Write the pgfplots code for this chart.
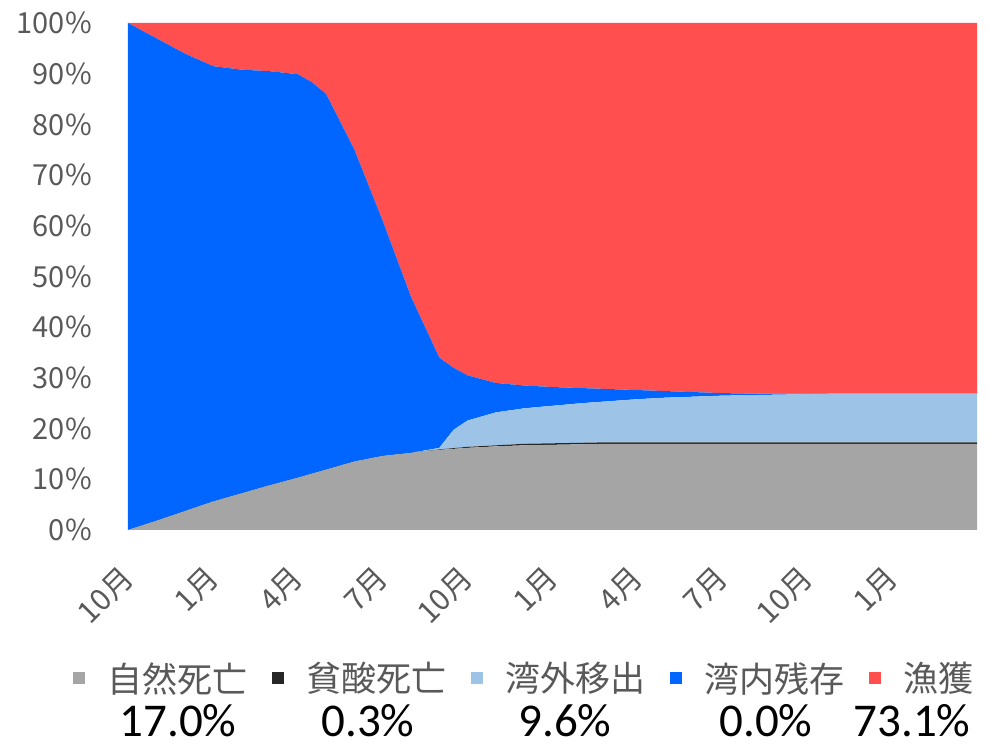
\documentclass[border=0pt]{standalone}
\usepackage{fontspec}
\setmainfont{Noto Sans CJK JP}
\newfontfamily\numfont{Carlito}
\usepackage{pgfplots}
\usepackage{pgfplotstable}
\pgfplotsset{compat=1.18}

\definecolor{tickgray}{HTML}{595959}
\definecolor{natgray}{HTML}{A5A5A5}
\definecolor{hypoxic}{HTML}{262626}
\definecolor{outblue}{HTML}{9DC3E6}
\definecolor{inblue}{HTML}{0066FF}
\definecolor{catchred}{HTML}{FF4F4F}

% monthly shares (%): natural death, hypoxic death, emigration, remaining, catch
\pgfplotstableread{
m     g     b     l     u      r
0     0.0   0.0   0.0   100.0  0.0
1     1.8   0.0   0.0   95.2   3.0
2     3.7   0.0   0.0   90.3   6.0
3     5.6   0.0   0.0   85.9   8.5
4     7.2   0.0   0.0   83.6   9.2
5     8.8   0.0   0.0   81.7   9.5
6     10.3  0.0   0.0   79.6   10.1
6.5   11.1  0.0   0.0   77.2   11.7
7     11.9  0.0   0.0   74.1   14.0
8     13.5  0.0   0.0   61.5   25.0
9     14.6  0.0   0.0   46.4   39.0
10    15.2  0.0   0.0   30.8   54.0
11    15.8  0.1   0.3   17.8   66.0
11.5  16.0  0.15  3.6   12.25  68.0
12    16.2  0.2   5.2   8.9    69.5
13    16.5  0.2   6.5   5.8    71.0
14    16.7  0.3   7.0   4.5    71.5
15    16.8  0.3   7.4   3.7    71.8
16    16.9  0.3   7.8   3.0    72.0
17    17.0  0.3   8.1   2.4    72.2
18    17.0  0.3   8.5   1.8    72.4
19    17.0  0.3   8.8   1.3    72.6
20    17.0  0.3   9.0   0.9    72.8
21    17.0  0.3   9.2   0.5    73.0
22    17.0  0.3   9.3   0.3    73.1
23    17.0  0.3   9.4   0.2    73.1
24    17.0  0.3   9.5   0.1    73.1
25    17.0  0.3   9.6   0.0    73.1
26    17.0  0.3   9.6   0.0    73.1
27    17.0  0.3   9.6   0.0    73.1
28    17.0  0.3   9.6   0.0    73.1
29    17.0  0.3   9.6   0.0    73.1
30    17.0  0.3   9.6   0.0    73.1
}\shares

\begin{document}
\begin{tikzpicture}
\useasboundingbox (0,0) rectangle (989pt,747pt);
\begin{axis}[
  at={(128pt,217pt)}, anchor=south west,
  scale only axis, width=849pt, height=507pt,
  xmin=0, xmax=30, ymin=0, ymax=100,
  stack plots=y, area style,
  axis line style={draw=none},
  major tick length=0pt,
  ytick={0,10,...,100},
  yticklabels={0\%,10\%,20\%,30\%,40\%,50\%,60\%,70\%,80\%,90\%,100\%},
  xtick={0,3,...,27},
  xticklabels={10月,1月,4月,7月,10月,1月,4月,7月,10月,1月},
  tick label style={font=\fontsize{29}{34}\selectfont, text=tickgray, inner sep=0pt},
  yticklabel style={anchor=east},
  yticklabel shift=36pt,
  xticklabel style={rotate=45, anchor=east, font=\fontsize{30}{34}\selectfont},
  xticklabel shift=43pt,
  legend columns=5,
  legend style={at={(-0.0648,-0.2919)}, anchor=west, draw=none, fill=none,
    inner sep=0pt, font=\fontsize{35}{40}\selectfont, text=tickgray,
    nodes={inner sep=0pt},
    /tikz/every even column/.append style={column sep=25pt}},
  legend image code/.code={%
    \path (0pt,0pt) (34pt,0pt);
    \fill[#1] (0pt,-6pt) rectangle (12pt,6pt);},
]
\addplot[fill=natgray, draw=none] table[x=m, y=g] {\shares} \closedcycle;
\addlegendentry{自然死亡}
\addplot[fill=hypoxic, draw=none] table[x=m, y=b] {\shares} \closedcycle;
\addlegendentry{貧酸死亡}
\addplot[fill=outblue, draw=none] table[x=m, y=l] {\shares} \closedcycle;
\addlegendentry{湾外移出}
\addplot[fill=inblue, draw=none] table[x=m, y=u] {\shares} \closedcycle;
\addlegendentry{湾内残存}
\addplot[fill=catchred, draw=none] table[x=m, y=r] {\shares} \closedcycle;
\addlegendentry{漁獲}
\end{axis}
% final shares under the legend
\begin{scope}[every node/.style={anchor=base, inner sep=0pt, font=\numfont\fontsize{47}{50}\selectfont}]
\node at (178pt,10pt) {17.0\%};
\node at (368pt,10pt) {0.3\%};
\node at (565pt,10pt) {9.6\%};
\node at (766pt,10pt) {0.0\%};
\node at (912pt,10pt) {73.1\%};
\end{scope}
\end{tikzpicture}
\end{document}
